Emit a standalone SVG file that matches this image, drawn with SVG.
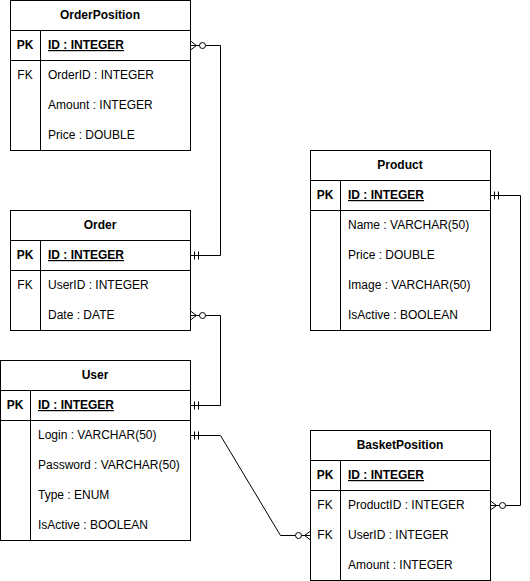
<svg xmlns="http://www.w3.org/2000/svg" width="530" height="581" viewBox="0 0 530 581">
<style>
.box{fill:#fff;stroke:#000;stroke-width:1}
.ln{fill:none;stroke:#000;stroke-width:1}
text{font-family:"Liberation Sans",Arial,Helvetica,sans-serif;font-size:12px;fill:#000}
.hd{font-weight:bold;text-anchor:middle}
.key{font-weight:bold;text-anchor:middle}
.fk{text-anchor:middle}
.pk{font-weight:bold;text-decoration:underline}
.conn{fill:none;stroke:#000;stroke-width:1}
</style>
<defs>
<marker id="zeroMany" markerUnits="userSpaceOnUse" markerWidth="20" markerHeight="20" refX="0" refY="0" orient="auto" overflow="visible">
<path d="M0,-4.5 L-6,0 L0,4.5 M0,0 H-9" fill="none" stroke="#000" stroke-width="1"/>
<circle cx="-12" cy="0" r="3" fill="#fff" stroke="#000" stroke-width="1"/>
</marker>
<marker id="oneOnly" markerUnits="userSpaceOnUse" markerWidth="20" markerHeight="20" refX="0" refY="0" orient="auto-start-reverse" overflow="visible">
<path d="M-4,-4 V4 M-8,-4 V4" fill="none" stroke="#000" stroke-width="1"/>
</marker>
</defs>

<g id="connectors">
<path class="conn" d="M190.5,255.5 H220.5 V45.5 H190.5" marker-start="url(#oneOnly)" marker-end="url(#zeroMany)"/>
<path class="conn" d="M190.5,405.5 H220.5 V315.5 H190.5" marker-start="url(#oneOnly)" marker-end="url(#zeroMany)"/>
<path class="conn" d="M190.5,435.5 H220.5 L280.5,535.5 H310.5" marker-start="url(#oneOnly)" marker-end="url(#zeroMany)"/>
<path class="conn" d="M490.5,195.5 H520.5 V505.5 H490.5" marker-start="url(#oneOnly)" marker-end="url(#zeroMany)"/>
</g>

<g id="OrderPosition">
<rect class="box" x="10.5" y="0.5" width="180" height="150"/>
<path class="ln" d="M10.5,30.5 H190.5 M10.5,60.5 H190.5 M40.5,30.5 V150.5"/>
<text class="hd" x="100" y="19">OrderPosition</text>
<text class="key" x="25" y="49">PK</text>
<text class="pk" x="48" y="49">ID : INTEGER</text>
<text class="fk" x="25" y="79">FK</text>
<text x="48" y="79">OrderID : INTEGER</text>
<text x="48" y="109">Amount : INTEGER</text>
<text x="48" y="139">Price : DOUBLE</text>
</g>

<g id="Order">
<rect class="box" x="10.5" y="210.5" width="180" height="120"/>
<path class="ln" d="M10.5,240.5 H190.5 M10.5,270.5 H190.5 M40.5,240.5 V330.5"/>
<text class="hd" x="100" y="229">Order</text>
<text class="key" x="25" y="259">PK</text>
<text class="pk" x="48" y="259">ID : INTEGER</text>
<text class="fk" x="25" y="289">FK</text>
<text x="48" y="289">UserID : INTEGER</text>
<text x="48" y="319">Date : DATE</text>
</g>

<g id="User">
<rect class="box" x="0.5" y="360.5" width="190" height="180"/>
<path class="ln" d="M0.5,390.5 H190.5 M0.5,420.5 H190.5 M30.5,390.5 V540.5"/>
<text class="hd" x="95" y="379">User</text>
<text class="key" x="15" y="409">PK</text>
<text class="pk" x="38" y="409">ID : INTEGER</text>
<text x="38" y="439">Login : VARCHAR(50)</text>
<text x="38" y="469">Password : VARCHAR(50)</text>
<text x="38" y="499">Type : ENUM</text>
<text x="38" y="529">IsActive : BOOLEAN</text>
</g>

<g id="Product">
<rect class="box" x="310.5" y="150.5" width="180" height="180"/>
<path class="ln" d="M310.5,180.5 H490.5 M310.5,210.5 H490.5 M340.5,180.5 V330.5"/>
<text class="hd" x="400" y="169">Product</text>
<text class="key" x="325" y="199">PK</text>
<text class="pk" x="348" y="199">ID : INTEGER</text>
<text x="348" y="229">Name : VARCHAR(50)</text>
<text x="348" y="259">Price : DOUBLE</text>
<text x="348" y="289">Image : VARCHAR(50)</text>
<text x="348" y="319">IsActive : BOOLEAN</text>
</g>

<g id="BasketPosition">
<rect class="box" x="310.5" y="430.5" width="180" height="150"/>
<path class="ln" d="M310.5,460.5 H490.5 M310.5,490.5 H490.5 M340.5,460.5 V580.5"/>
<text class="hd" x="400" y="449">BasketPosition</text>
<text class="key" x="325" y="479">PK</text>
<text class="pk" x="348" y="479">ID : INTEGER</text>
<text class="fk" x="325" y="509">FK</text>
<text x="348" y="509">ProductID : INTEGER</text>
<text class="fk" x="325" y="539">FK</text>
<text x="348" y="539">UserID : INTEGER</text>
<text x="348" y="569">Amount : INTEGER</text>
</g>
</svg>
